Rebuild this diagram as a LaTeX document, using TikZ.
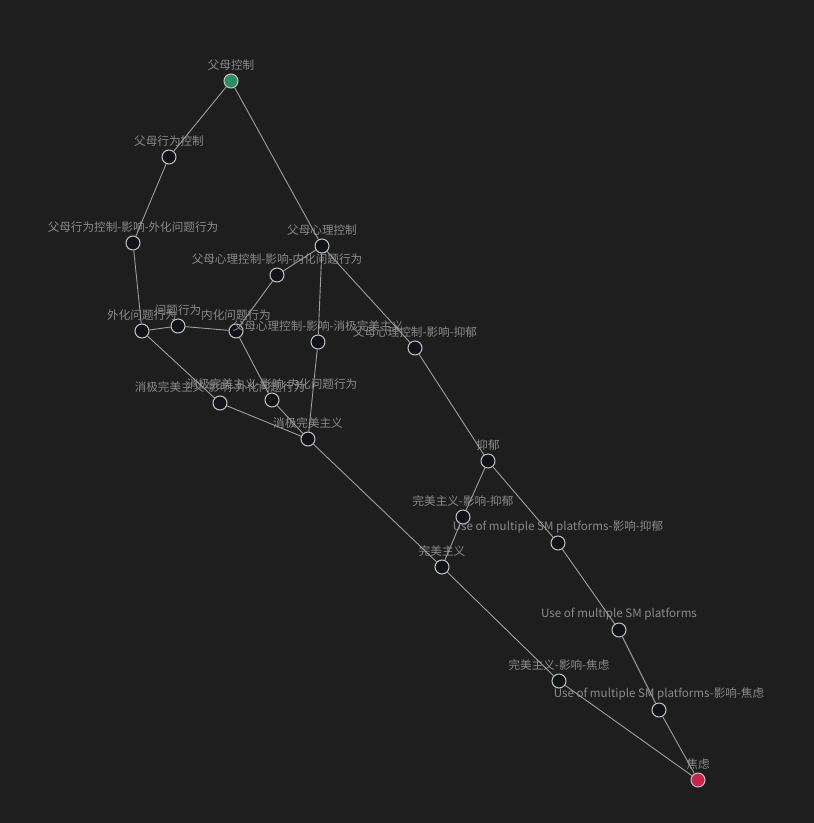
\documentclass[tikz,border=0pt]{standalone}
\usepackage{fontspec}
\setmainfont{Noto Sans CJK SC}
\definecolor{bg}{HTML}{1E1E1E}
\definecolor{edgec}{HTML}{9E9E9E}
\definecolor{nodefill}{HTML}{10141A}
\definecolor{nodeline}{HTML}{C4C4C4}
\definecolor{labc}{HTML}{8A8A8A}
\definecolor{startc}{HTML}{2E8B62}
\definecolor{endc}{HTML}{C8234A}
\tikzset{
  vtx/.style={circle,minimum size=14pt,inner sep=0pt,draw=nodeline,line width=1pt,fill=nodefill},
  startv/.style={vtx,fill=startc},
  endv/.style={vtx,fill=endc},
  lab/.style={text=labc,font=\fontsize{11.6}{12}\selectfont,inner sep=0pt},
  link/.style={draw=edgec,line width=0.9pt},
  every label/.style={lab},
  label distance=2.6pt
}
\begin{document}
\begin{tikzpicture}[x=1pt,y=-1pt]
\fill[bg] (0,0) rectangle (814,823);
\useasboundingbox (0,0) rectangle (814,823);
\node[startv,label=above:父母控制] (pc) at (231,81) {};
\node[vtx,label=above:父母行为控制] (pbc) at (169,157) {};
\node[vtx,label=above:父母行为控制-影响-外化问题行为] (pbcext) at (133,243) {};
\node[vtx,label=above:父母心理控制] (ppc) at (322,246) {};
\node[vtx,label=above:父母心理控制-影响-内化问题行为] (ppcint) at (277,275) {};
\node[vtx,label=above:外化问题行为] (ext) at (142,331) {};
\node[vtx,label=above:问题行为] (prob) at (178,326) {};
\node[vtx,label=above:内化问题行为] (int) at (236,331) {};
\node[vtx,label=above:父母心理控制-影响-消极完美主义] (ppcneg) at (318,342) {};
\node[vtx,label=above:父母心理控制-影响-抑郁] (ppcdep) at (415,348) {};
\node[vtx,label=above:消极完美主义-影响-外化问题行为] (negext) at (220,403) {};
\node[vtx,label=above:消极完美主义-影响-内化问题行为] (negint) at (272,400) {};
\node[vtx,label=above:消极完美主义] (neg) at (308,439) {};
\node[vtx,label=above:抑郁] (dep) at (488,461) {};
\node[vtx,label=above:完美主义-影响-抑郁] (perdep) at (463,517) {};
\node[vtx,label=above:Use of multiple SM platforms-影响-抑郁] (smdep) at (558,543) {};
\node[vtx,label=above:完美主义] (per) at (442,567) {};
\node[vtx,label=above:Use of multiple SM platforms] (sm) at (619,630) {};
\node[vtx,label=above:完美主义-影响-焦虑] (peranx) at (559,681) {};
\node[vtx,label=above:Use of multiple SM platforms-影响-焦虑] (smanx) at (659,710) {};
\node[endv,label=above:焦虑] (anx) at (698,780) {};
\draw[link] (pc) -- (pbc);
\draw[link] (pc) -- (ppc);
\draw[link] (pbc) -- (pbcext);
\draw[link] (pbcext) -- (ext);
\draw[link] (ext) -- (prob);
\draw[link] (prob) -- (int);
\draw[link] (ppc) -- (ppcint);
\draw[link] (ppcint) -- (int);
\draw[link] (ppc) -- (ppcneg);
\draw[link] (ppc) -- (ppcdep);
\draw[link] (ppcneg) -- (neg);
\draw[link] (ext) -- (negext);
\draw[link] (negext) -- (neg);
\draw[link] (int) -- (negint);
\draw[link] (negint) -- (neg);
\draw[link] (neg) -- (per);
\draw[link] (ppcdep) -- (dep);
\draw[link] (dep) -- (perdep);
\draw[link] (perdep) -- (per);
\draw[link] (dep) -- (smdep);
\draw[link] (smdep) -- (sm);
\draw[link] (sm) -- (smanx);
\draw[link] (smanx) -- (anx);
\draw[link] (per) -- (peranx);
\draw[link] (peranx) -- (anx);
\end{tikzpicture}
\end{document}
